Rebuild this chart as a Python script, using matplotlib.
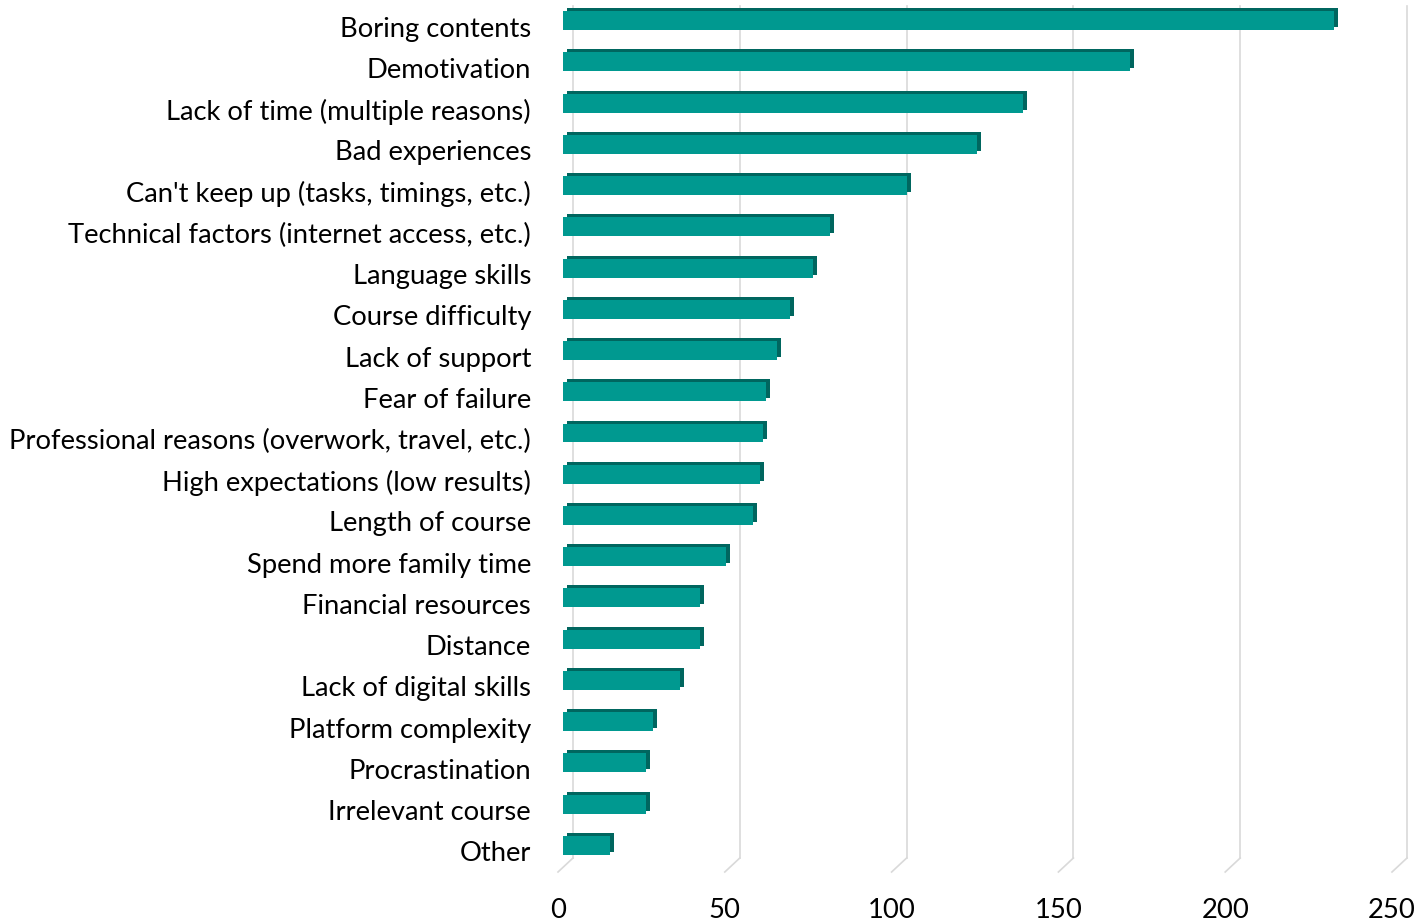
import numpy as np
import matplotlib.pyplot as plt
from matplotlib.transforms import offset_copy, ScaledTranslation

reasons = ["Boring contents", "Demotivation", "Lack of time (multiple reasons)",
           "Bad experiences", "Can't keep up (tasks, timings, etc.)",
           "Technical factors (internet access, etc.)", "Language skills",
           "Course difficulty", "Lack of support", "Fear of failure",
           "Professional reasons (overwork, travel, etc.)",
           "High expectations (low results)", "Length of course",
           "Spend more family time", "Financial resources", "Distance",
           "Lack of digital skills", "Platform complexity", "Procrastination",
           "Irrelevant course", "Other"]
counts = [231, 170, 138, 124, 103, 80, 75, 68, 64, 61, 60, 59, 57, 49,
          41, 41, 35, 27, 25, 25, 14]
xticks = [0, 50, 100, 150, 200, 250]

front = '#009990'
side = '#00665F'
grid = '#D9D9D9'

W, H = 1416, 921
fig = plt.figure(figsize=(W / 100, H / 100), dpi=100)
ax = fig.add_axes([563 / W, (H - 872) / H, 834 / W, 866 / H])

y = np.arange(len(reasons))
ax.set_xlim(0, 250)
ax.set_ylim(len(reasons) - 0.5, -0.5)

# back-wall gridlines with the little floor diagonal (fake 3D)
px = 834 / 250.0
back = offset_copy(ax.transData, fig, x=10, y=0, units='dots')
for v in xticks[1:] + [0]:
    ax.plot([v, v], [-0.5, 20.5 - 14 / 41.25], color=grid, lw=1.2,
            transform=back, zorder=0, clip_on=False)
    ax.plot([v + 10 / px, v - 5 / px], [20.5 - 14 / 41.25, 20.5], color=grid,
            lw=1.2, zorder=0, clip_on=False)

# bars: darker shifted copy for top/side faces, then front face
h = 0.46
top_tr = offset_copy(ax.transData, fig, x=4, y=9, units='dots')
front_tr = offset_copy(ax.transData, fig, x=0, y=6, units='dots')
ax.barh(y, counts, height=h, color=side, transform=top_tr, zorder=2)
ax.barh(y, counts, height=h, color=front, transform=front_tr, zorder=3)

ax.set_yticks(y)
ax.set_yticklabels(reasons, fontsize=19.7, family='Lato')
ax.set_xticks(xticks)
ax.set_xticklabels([str(v) for v in xticks], fontsize=19.7, family='Lato')
ax.tick_params(axis='y', length=0, pad=23)
ax.tick_params(axis='x', length=0, pad=19)
shift = ScaledTranslation(-5 / 100, 0, fig.dpi_scale_trans)
for lbl in ax.get_xticklabels():
    lbl.set_transform(lbl.get_transform() + shift)
for s in ax.spines.values():
    s.set_visible(False)

fig.savefig('out.png', dpi=100)
